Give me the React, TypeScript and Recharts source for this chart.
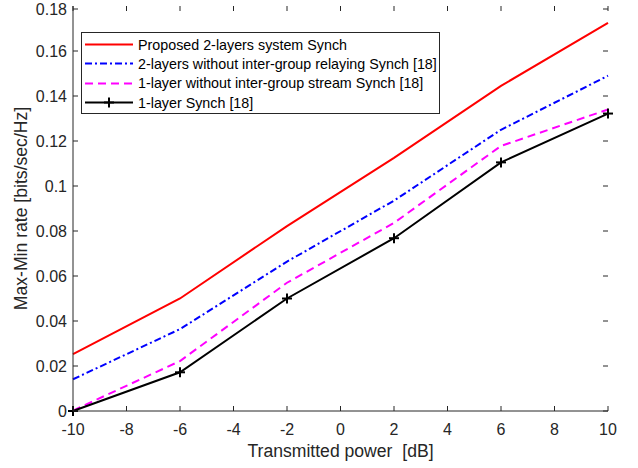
import { LineChart, Line, XAxis, YAxis, Legend } from 'recharts';

// transmitted power [dB]
const power = [-10, -6, -2, 2, 6, 10];

// max-min rate [bits/sec/Hz]
const proposed = [0.0253, 0.05, 0.0822, 0.1125, 0.1445, 0.1725];
const noRelaying = [0.0141, 0.0364, 0.0664, 0.0935, 0.125, 0.149];
const noStream = [0.0002, 0.0222, 0.057, 0.0836, 0.1178, 0.134];
const oneLayer = [0.0, 0.0172, 0.05, 0.0768, 0.1105, 0.1322];

const xTicks = [-10, -8, -6, -4, -2, 0, 2, 4, 6, 8, 10];
const yTicks = [0, 0.02, 0.04, 0.06, 0.08, 0.1, 0.12, 0.14, 0.16, 0.18];

const seriesNames = [
  'Proposed 2-layers system Synch',
  '2-layers without inter-group relaying Synch [18]',
  '1-layer without inter-group stream Synch [18]',
  '1-layer Synch [18]',
];

const data = power.map((p, i) => ({
  p,
  proposed: proposed[i],
  noRelaying: noRelaying[i],
  noStream: noStream[i],
  oneLayer: oneLayer[i],
}));

const FONT = '"Liberation Sans", Arial, Helvetica, sans-serif';
const AXIS = '#262626';
// plot frame (matches chart margins + axis sizes below)
const PLOT = { left: 73, right: 608, top: 6, bottom: 411 };

const XTick = ({ x, y, payload }: any) => (
  <g>
    <line x1={x} x2={x} y1={PLOT.bottom} y2={PLOT.bottom - 5} stroke={AXIS} />
    <line x1={x} x2={x} y1={PLOT.top} y2={PLOT.top + 5} stroke={AXIS} />
    <text x={x} y={y} dy="0.71em" textAnchor="middle" fill={AXIS} fontSize={16} fontFamily={FONT}>
      {payload.value}
    </text>
  </g>
);

const YTick = ({ x, y, payload }: any) => (
  <g>
    <line x1={PLOT.left} x2={PLOT.left + 5} y1={y} y2={y} stroke={AXIS} />
    <line x1={PLOT.right} x2={PLOT.right - 5} y1={y} y2={y} stroke={AXIS} />
    <text x={x} y={y} dy="0.355em" textAnchor="end" fill={AXIS} fontSize={16} fontFamily={FONT}>
      {payload.value}
    </text>
  </g>
);

const PlusDot = ({ cx, cy }: any) => (
  <g stroke="#000" strokeWidth={2}>
    <line x1={cx - 5} x2={cx + 5} y1={cy} y2={cy} />
    <line x1={cx} x2={cx} y1={cy - 5} y2={cy + 5} />
  </g>
);

const styles = [
  { color: '#ff0000', dash: undefined, marker: false },
  { color: '#0000ff', dash: '7 3 2 3', marker: false },
  { color: '#ff00ff', dash: '8 5', marker: false },
  { color: '#000000', dash: undefined, marker: true },
];

const LegendBox = () => (
  <div
    style={{
      width: 359,
      height: 82,
      boxSizing: 'border-box',
      border: `1px solid ${AXIS}`,
      background: '#fff',
      paddingTop: 2,
      fontFamily: FONT,
      fontSize: 14.3,
      color: '#000',
    }}
  >
    {seriesNames.map((name, i) => (
      <div key={name} style={{ display: 'flex', alignItems: 'center', height: 19.3 }}>
        <svg width={56} height={19} style={{ flex: 'none' }}>
          <line x1={3} x2={51} y1={9.5} y2={9.5} stroke={styles[i].color} strokeWidth={2} strokeDasharray={styles[i].dash} />
          {styles[i].marker && <PlusDot cx={27} cy={9.5} />}
        </svg>
        <span style={{ whiteSpace: 'nowrap' }}>{name}</span>
      </div>
    ))}
  </div>
);

export default function App() {
  return (
    <div style={{ position: 'absolute', left: 0, top: 0, width: 638, height: 468, background: '#fff' }}>
      <LineChart width={638} height={468} data={data} margin={{ top: 6, right: 30, left: 0, bottom: 0 }}>
        <XAxis
          dataKey="p"
          type="number"
          domain={[-10, 10]}
          ticks={xTicks}
          height={57}
          tickLine={false}
          tickSize={0}
          tickMargin={13}
          tick={<XTick />}
          axisLine={{ stroke: AXIS }}
          label={{ value: 'Transmitted power\u00a0\u00a0[dB]', position: 'insideBottom', offset: 11, fill: AXIS, fontSize: 17.6, fontFamily: FONT }}
        />
        <XAxis xAxisId="top" orientation="top" type="number" domain={[-10, 10]} height={0} tick={false} tickLine={false} axisLine={{ stroke: AXIS }} />
        <YAxis
          type="number"
          domain={[0, 0.18]}
          ticks={yTicks}
          width={73}
          tickLine={false}
          tickSize={0}
          tickMargin={6}
          tick={<YTick />}
          axisLine={{ stroke: AXIS }}
          label={{ value: 'Max-Min rate [bits/sec/Hz]', angle: -90, position: 'insideLeft', offset: 21, fill: AXIS, fontSize: 17.6, fontFamily: FONT, style: { textAnchor: 'middle' } }}
        />
        <YAxis yAxisId="right" orientation="right" type="number" domain={[0, 0.18]} width={0} tick={false} tickLine={false} axisLine={{ stroke: AXIS }} />
        <Line dataKey="proposed" name={seriesNames[0]} stroke="#ff0000" strokeWidth={2} dot={false} isAnimationActive={false} />
        <Line dataKey="noRelaying" name={seriesNames[1]} stroke="#0000ff" strokeWidth={2} strokeDasharray="7 3 2 3" dot={false} isAnimationActive={false} />
        <Line dataKey="noStream" name={seriesNames[2]} stroke="#ff00ff" strokeWidth={2} strokeDasharray="8 5" dot={false} isAnimationActive={false} />
        <Line dataKey="oneLayer" name={seriesNames[3]} stroke="#000000" strokeWidth={2} dot={<PlusDot />} isAnimationActive={false} />
        <Legend
          layout="vertical"
          align="center"
          verticalAlign="middle"
          content={<LegendBox />}
          wrapperStyle={{ left: 81, top: 32, width: 359, height: 82 }}
        />
      </LineChart>
    </div>
  );
}
